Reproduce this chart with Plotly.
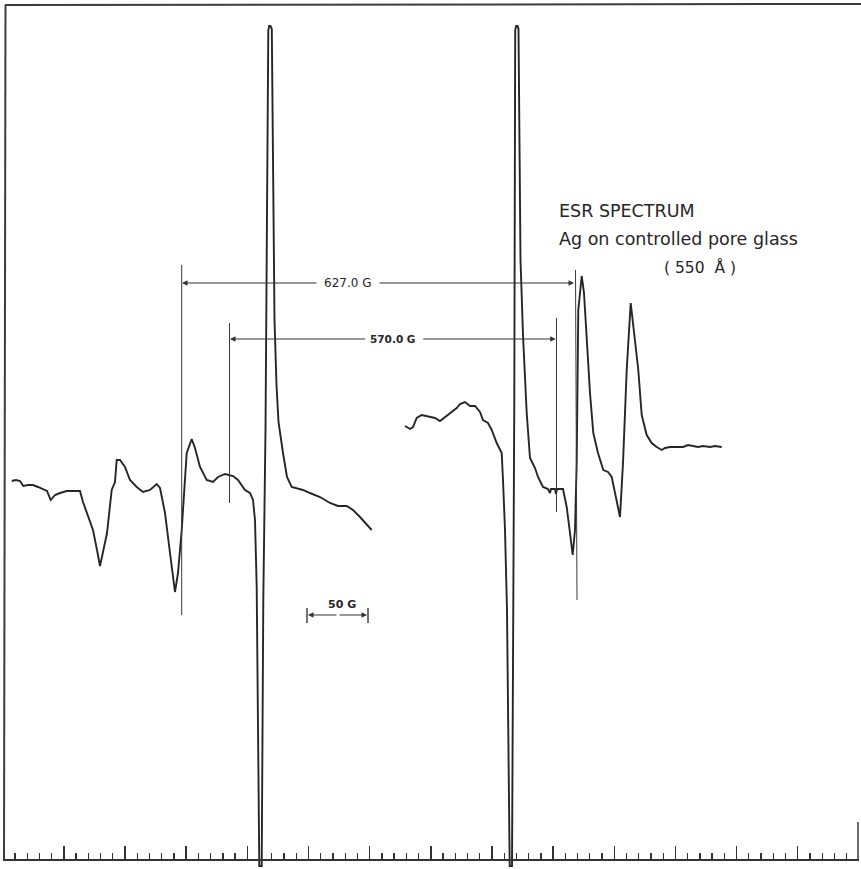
import plotly.graph_objects as go

# ---- data (x: field position, y: pen deflection, downward positive) ----
left_field = [11.7, 16, 20, 23.3, 28, 33, 38, 43, 47, 50.7, 55, 60, 66.7, 73, 80, 83, 88, 93, 97, 100,
              103, 107, 111.7, 115, 116.7, 120, 125, 130, 136.7, 143, 150, 156.7, 160, 165, 170, 175,
              178, 181.7, 186.7, 191.7, 195, 200, 206.7, 213, 218, 225, 233, 238, 245, 250, 253, 255,
              256.7, 258, 259.3, 261.7, 262.7, 263.3, 265.5, 267, 268.3, 269.2, 270.5, 271.8, 272.6, 273.2,
              274.5, 276.5, 278.5, 283, 287, 291.7, 296.7, 303, 310, 320, 330, 338, 346.7, 353, 360, 366.7, 371.7]
left_signal = [481, 480, 481, 486, 485, 485, 487, 489, 491, 500, 495, 493, 491, 491, 491, 502, 515, 530, 550, 566,
               552, 533, 490, 482, 460, 460, 467, 480, 487, 492, 490, 484, 488, 513, 553, 592,
               573, 530, 453, 439, 448, 467, 480, 482, 477, 474, 476, 480, 490, 493, 500, 520,
               587, 720, 866, 866, 720, 600, 430, 250, 30, 26, 26, 29, 120, 230,
               320, 385, 422, 453, 477, 487, 488, 490, 493, 497, 503, 506, 506, 510, 517, 525, 530]

right_field = [405, 410, 413, 416.7, 421.7, 426, 430, 435, 440, 445, 451.7, 456.7, 460, 465, 470, 475, 480,
               483, 488, 491.7, 496.7, 501.7, 503, 505, 507, 508.5, 509.7, 512, 513, 514.3, 514.9, 515.2,
               516.2, 517.5, 518.5, 519.2, 520.5, 523, 525, 526.7, 530, 535, 538, 543, 548, 550, 551, 555, 556, 557,
               563, 566.7, 570, 572.7, 575, 576.7, 578.3, 581.7, 584, 586.7, 590, 593.3, 598, 603.3,
               608, 611.7, 616, 620, 623, 626.7, 630.7, 633.3, 638.3, 641.7, 645, 646.7, 651.7, 656.7,
               661.7, 665, 670, 676.7, 683, 688, 693, 698, 703, 710, 715, 721.7]
right_signal = [426, 429, 427, 418, 415, 416, 417, 418, 421, 417, 412, 408, 404, 402, 406, 406, 412,
                420, 423, 430, 443, 453, 480, 530, 610, 740, 866, 866, 700, 400, 150, 30,
                26, 26, 29, 130, 260, 335, 380, 413, 458, 468, 477, 487, 489, 493, 489, 489, 494, 489,
                489, 507, 533, 555, 530, 463, 310, 276, 293, 343, 393, 433, 453, 470,
                472, 477, 497, 517, 463, 370, 303, 327, 370, 415, 427, 435, 443, 447,
                450, 448, 447, 447, 447, 445, 446, 447, 446, 447, 446, 447]

title_lines = ["ESR SPECTRUM", "Ag on controlled pore glass", "( 550  Å )"]
split_labels = ["627.0 G", "570.0 G"]
scale_label = "50 G"

INK = "#262626"
FONT = "DejaVu Sans"

fig = go.Figure()
fig.add_trace(go.Scatter(x=left_field, y=left_signal, mode="lines",
                         line=dict(color=INK, width=1.9), hoverinfo="skip", showlegend=False))
fig.add_trace(go.Scatter(x=right_field, y=right_signal, mode="lines",
                         line=dict(color=INK, width=1.9), hoverinfo="skip", showlegend=False))

shapes = []
thin = dict(color="#3a3a3a", width=1)
# marker lines for the splittings
for (x0, y0, x1, y1) in [(181.7, 265, 181.7, 615), (229.5, 323, 229.5, 503),
                         (556.5, 318, 556.5, 512), (575.5, 270, 577, 600)]:
    shapes.append(dict(type="line", xref="x", yref="y", x0=x0, y0=y0, x1=x1, y1=y1, line=thin))
# 50 G end caps
for xc in [307, 368]:
    shapes.append(dict(type="line", xref="x", yref="y", x0=xc, y0=608, x1=xc, y1=623,
                       line=dict(color=INK, width=1.3)))
# chart frame
frame = dict(color="#3c3c3c", width=2)
shapes.append(dict(type="line", xref="paper", yref="paper", x0=5/861, y0=1-5/869, x1=1, y1=1-4/869, line=frame))
shapes.append(dict(type="line", xref="paper", yref="paper", x0=5.5/861, y0=1-5/869, x1=4/861, y1=1-861/869, line=frame))
shapes.append(dict(type="line", xref="paper", yref="paper", x0=858/861, y0=1-822/869, x1=858/861, y1=1-860/869,
                   line=dict(color="#3c3c3c", width=1.5)))

annotations = []
def dim_arrow(x_tail, x_head, y):
    annotations.append(dict(x=x_head, y=y, ax=x_tail, ay=y, xref="x", yref="y", axref="x", ayref="y",
                            text="", showarrow=True, arrowhead=2, arrowsize=1.1, arrowwidth=1,
                            arrowcolor="#333", standoff=0, startstandoff=0))

dim_arrow(318, 182, 283)
dim_arrow(378, 574, 283)
dim_arrow(366.7, 230, 339)
dim_arrow(421.7, 555.7, 339)
dim_arrow(338, 308, 615)
dim_arrow(338, 367, 615)

annotations.append(dict(x=347.5, y=283, xref="x", yref="y", text=split_labels[0], showarrow=False,
                        font=dict(family=FONT, size=12, color=INK)))
annotations.append(dict(x=393, y=339, xref="x", yref="y", text="<b>" + split_labels[1] + "</b>", showarrow=False,
                        font=dict(family=FONT, size=10.5, color=INK)))
annotations.append(dict(x=341.5, y=604, xref="x", yref="y", text="<b>" + scale_label + "</b>", showarrow=False,
                        font=dict(family=FONT, size=11, color=INK)))
annotations.append(dict(x=557, y=211, xref="x", yref="y", text=title_lines[0], showarrow=False, xanchor="left",
                        font=dict(family=FONT, size=17.5, color=INK)))
annotations.append(dict(x=557, y=239, xref="x", yref="y", text=title_lines[1], showarrow=False, xanchor="left",
                        font=dict(family=FONT, size=17.5, color=INK)))
annotations.append(dict(x=699.5, y=267, xref="x", yref="y", text=title_lines[2], showarrow=False,
                        font=dict(family=FONT, size=15.5, color=INK)))

fig.update_layout(
    width=861, height=869,
    margin=dict(l=0, r=0, t=0, b=0),
    paper_bgcolor="white", plot_bgcolor="white",
    shapes=shapes, annotations=annotations,
    xaxis=dict(domain=[3/861, 859/861], range=[3, 859], anchor="free", position=10/869,
               showline=True, linecolor="#333", linewidth=1.5,
               ticks="inside", ticklen=13, tickwidth=1.5, tickcolor="#333",
               tick0=63.9, dtick=61.15, showticklabels=False, showgrid=False, zeroline=False,
               minor=dict(ticks="inside", ticklen=6, tickwidth=1.3, tickcolor="#333",
                          tick0=63.9, dtick=12.23, showgrid=False)),
    yaxis=dict(domain=[0, 1], range=[869, 0], visible=False),
)

fig.write_html("out.html", config={"displayModeBar": False, "staticPlot": True},
               post_script="document.body.style.margin='0px';document.body.style.overflow='hidden';")
